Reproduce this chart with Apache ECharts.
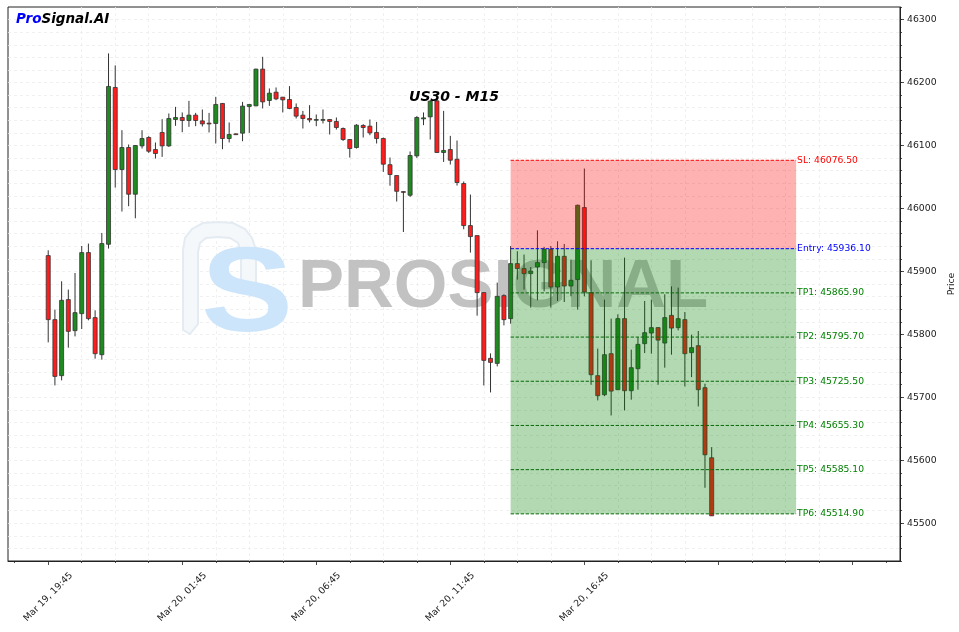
<!DOCTYPE html>
<html><head><meta charset="utf-8">
<script src="https://cdn.jsdelivr.net/npm/echarts@6/dist/echarts.min.js"></script>
<style>html,body{margin:0;padding:0;background:#fff}#c{width:959px;height:632px}</style>
</head><body><div id="c"></div>
<script>
// ---- data ----
const tickIndex = [0, 20, 40, 60, 80];
const tickLabels = ['Mar 19, 19:45', 'Mar 20, 01:45', 'Mar 20, 06:45', 'Mar 20, 11:45', 'Mar 20, 16:45'];
const majorTicks = [0, 20, 40, 60, 80, 100, 120];
const minorTicks = [-5, 5, 10, 15, 25, 30, 35, 45, 50, 55, 65, 70, 75, 85, 90, 95, 105, 110, 115, 125];
const priceTicks = [45500, 45600, 45700, 45800, 45900, 46000, 46100, 46200, 46300];

const opens = [
45925.1, 45823.4, 45734.4, 45855.2, 45805.9, 45832.9, 45929.9, 45826.6, 45767.7, 45943.1,
46192.2, 46061.8, 46096.8, 46022.6, 46099.4, 46112.7, 46093.6, 46120.7, 46099.4, 46141.3,
46144.5, 46139.7, 46148.2, 46139.1, 46135.5, 46135.0, 46166.8, 46111.1, 46118.5, 46119.6,
46162.0, 46163.0, 46221.3, 46171.5, 46184.7, 46176.8, 46173.1, 46160.4, 46148.2, 46142.9,
46141.3, 46141.3, 46141.3, 46138.2, 46127.0, 46109.5, 46096.8, 46131.8, 46130.7, 46120.7,
46111.1, 46069.5, 46052.3, 46026.8, 46021.0, 46083.5, 46142.3, 46145.5, 46170.9, 46088.9,
46093.6, 46078.2, 46039.6, 45972.8, 45956.9, 45866.3, 45761.9, 45753.9, 45861.5, 45825.0,
45912.4, 45904.5, 45896.5, 45907.0, 45914.0, 45935.1, 45875.2, 45924.0, 45876.8, 45887.0,
46001.4, 45866.3, 45734.4, 45704.1, 45769.3, 45712.1, 45825.0, 45710.5, 45745.5, 45785.2,
45802.1, 45810.7, 45786.2, 45830.2, 45810.7, 45823.4, 45770.9, 45782.0, 45715.3, 45604.0];
const closes = [
45823.4, 45733.2, 45854.1, 45804.8, 45834.5, 45929.9, 45825.0, 45769.3, 45944.2, 46193.8,
46061.8, 46096.8, 46022.6, 46100.0, 46111.1, 46090.9, 46087.3, 46099.4, 46142.9, 46144.5,
46139.7, 46148.2, 46139.7, 46134.3, 46135.0, 46165.2, 46111.1, 46117.5, 46117.5, 46162.5,
46165.2, 46221.3, 46169.3, 46183.1, 46174.1, 46172.5, 46158.8, 46146.6, 46142.9, 46140.7,
46141.3, 46141.3, 46138.2, 46128.6, 46109.5, 46095.2, 46132.3, 46128.6, 46120.0, 46111.1,
46070.3, 46053.9, 46027.3, 46026.0, 46084.1, 46144.5, 46143.9, 46170.4, 46088.9, 46092.1,
46076.6, 46041.2, 45972.8, 45955.3, 45866.3, 45758.7, 45755.5, 45860.4, 45823.4, 45912.4,
45904.5, 45896.5, 45900.6, 45914.0, 45935.1, 45875.2, 45924.0, 45876.8, 45885.9, 46005.1,
45867.3, 45735.9, 45702.6, 45767.7, 45709.9, 45825.0, 45710.5, 45747.1, 45784.1, 45802.7,
45810.7, 45790.9, 45826.6, 45810.0, 45825.0, 45769.3, 45778.9, 45712.1, 45608.7, 45511.8];
const highs = [
45933.5, 45839.3, 45884.3, 45871.1, 45897.5, 45940.4, 45944.2, 45838.2, 45961.1, 46246.3,
46227.2, 46124.3, 46101.6, 46100.5, 46124.3, 46114.8, 46104.8, 46141.8, 46150.9, 46161.4,
46152.5, 46170.9, 46151.8, 46157.2, 46151.8, 46177.3, 46167.3, 46136.6, 46119.0, 46169.3,
46165.5, 46222.0, 46240.9, 46190.6, 46192.2, 46177.0, 46194.3, 46166.8, 46155.0, 46164.1,
46149.3, 46157.2, 46141.5, 46144.5, 46128.6, 46110.0, 46133.9, 46133.9, 46141.3, 46137.5,
46112.7, 46080.9, 46052.5, 46027.0, 46090.5, 46146.6, 46152.5, 46172.0, 46175.2, 46155.0,
46115.3, 46107.9, 46042.8, 46022.1, 45957.0, 45866.5, 45769.8, 45882.2, 45863.6, 45940.4,
45932.0, 45926.7, 45907.0, 45965.3, 45938.8, 45940.4, 45947.9, 45943.6, 45918.8, 46006.0,
46063.4, 45917.7, 45777.3, 45855.2, 45825.0, 45831.8, 45921.9, 45775.7, 45795.7, 45853.0,
45855.2, 45811.5, 45863.6, 45876.3, 45874.2, 45835.5, 45799.5, 45805.3, 45721.6, 45620.8];
const lows = [
45787.3, 45718.9, 45726.9, 45778.9, 45796.8, 45808.4, 45822.3, 45761.4, 45759.8, 45936.3,
46033.2, 45995.1, 46003.5, 45984.4, 46095.2, 46088.2, 46079.3, 46081.9, 46097.8, 46131.2,
46121.1, 46129.6, 46130.7, 46130.2, 46120.7, 46103.2, 46094.1, 46104.8, 46117.0, 46106.8,
46120.0, 46162.5, 46158.8, 46163.0, 46172.0, 46152.5, 46157.7, 46142.9, 46127.0, 46136.6,
46130.7, 46135.0, 46117.5, 46125.4, 46107.3, 46080.9, 46095.2, 46112.7, 46116.4, 46103.2,
46058.0, 46036.1, 46011.0, 45962.6, 46018.3, 46080.3, 46132.3, 46109.5, 46088.5, 46073.9,
46069.8, 46036.4, 45966.9, 45929.9, 45829.7, 45718.9, 45707.8, 45749.1, 45814.3, 45817.0,
45887.0, 45871.1, 45842.5, 45854.1, 45868.4, 45842.5, 45853.0, 45851.4, 45860.4, 45839.3,
45860.4, 45720.0, 45695.1, 45701.9, 45671.2, 45711.5, 45679.2, 45696.2, 45712.1, 45770.3,
45769.3, 45720.0, 45747.1, 45767.7, 45806.4, 45717.3, 45732.1, 45685.5, 45556.3, 45511.5];

const levelNames = ['SL', 'Entry', 'TP1', 'TP2', 'TP3', 'TP4', 'TP5', 'TP6'];
const levelValues = [46076.50, 45936.10, 45865.90, 45795.70, 45725.50, 45655.30, 45585.10, 45514.90];
const zoneStart = 69;
const zoneEnd = 111.6;

// ---- build ----
const FONT = '"DejaVu Sans", sans-serif';
const GREEN = '#1f8a1f', RED = '#ff1c1c', EDGE = '#333333';
const candleData = opens.map((o, i) => [i, o, closes[i], lows[i], highs[i]]);
const zoneData = [
  [zoneStart, zoneEnd, levelValues[0], levelValues[1]],
  [zoneStart, zoneEnd, levelValues[1], levelValues[levelValues.length - 1]]
];
const zoneColors = ['rgba(255,0,0,0.3)', 'rgba(0,128,0,0.3)'];
const levelData = levelValues.map((v, i) => [zoneStart, zoneEnd, v, i]);
const levelLineColors = ['#ff0000', '#0000ff', '#0a6a0a', '#0a6a0a', '#0a6a0a', '#0a6a0a', '#0a6a0a', '#0a6a0a'];
const levelTextColors = ['#ff0000', '#0000ff', '#008000', '#008000', '#008000', '#008000', '#008000', '#008000'];

function renderCandle(params, api) {
  const x = api.value(0), o = api.value(1), c = api.value(2), l = api.value(3), h = api.value(4);
  const pO = api.coord([x, o]), pC = api.coord([x, c]), pL = api.coord([x, l]), pH = api.coord([x, h]);
  const w = api.size([1, 0])[0] * 0.6;
  const top = Math.min(pO[1], pC[1]), bot = Math.max(pO[1], pC[1]);
  const up = c >= o;
  return {
    type: 'group', children: [
      { type: 'line', shape: { x1: pH[0], y1: pH[1], x2: pL[0], y2: pL[1] }, style: { stroke: EDGE, lineWidth: 1 } },
      { type: 'rect', shape: { x: pO[0] - w / 2, y: top, width: w, height: Math.max(bot - top, 0.8) },
        style: { fill: up ? GREEN : RED, stroke: EDGE, lineWidth: 0.8 } }
    ]
  };
}
function renderZone(params, api) {
  const a = api.coord([api.value(0), api.value(2)]);
  const b = api.coord([api.value(1), api.value(3)]);
  return { type: 'rect', shape: { x: a[0], y: a[1], width: b[0] - a[0], height: b[1] - a[1] },
    style: { fill: zoneColors[params.dataIndex] } };
}
function renderLevel(params, api) {
  const i = api.value(3);
  const v = api.value(2);
  const a = api.coord([api.value(0), v]);
  const b = api.coord([api.value(1), v]);
  return {
    type: 'group', children: [
      { type: 'line', shape: { x1: a[0], y1: a[1], x2: b[0], y2: b[1] },
        style: { stroke: levelLineColors[i], lineWidth: 1, lineDash: [3.4, 1.6] } },
      { type: 'text', x: b[0] + 1, y: b[1],
        style: { text: levelNames[i] + ': ' + v.toFixed(2), fill: levelTextColors[i], fontSize: 9.2,
                 fontFamily: FONT, align: 'left', verticalAlign: 'middle' } }
    ]
  };
}

const axisColor = '#222';
const lbl = { fontSize: 9.3, color: '#222', fontFamily: FONT };
const option = {
  animation: false,
  backgroundColor: '#fff',
  grid: { left: 8, right: 59, top: 7, bottom: 71, show: true, borderColor: '#222', borderWidth: 1,
          backgroundColor: 'transparent', containLabel: false, outerBoundsMode: 'none' },
  xAxis: [
    { type: 'value', min: -6, max: 127.1, position: 'bottom',
      axisLine: { show: true, onZero: false, lineStyle: { color: axisColor, width: 1 } },
      axisTick: { show: true, customValues: minorTicks, length: 2, lineStyle: { color: axisColor, width: 0.8 } },
      axisLabel: Object.assign({ show: true, customValues: tickIndex,
        formatter: v => { const k = tickIndex.indexOf(v); return k >= 0 ? tickLabels[k] : ''; },
        rotate: 45, align: 'center', verticalAlign: 'middle', margin: 36 }, lbl),
      splitLine: { show: true, showMinLine: false, showMaxLine: false, lineStyle: { color: '#ececec', type: [3, 3], width: 0.8 } } },
    { type: 'value', min: -6, max: 127.1, position: 'bottom',
      axisLine: { show: false, onZero: false }, axisLabel: { show: false }, splitLine: { show: false },
      axisTick: { show: true, customValues: majorTicks, length: 4, lineStyle: { color: axisColor, width: 0.8 } } }
  ],
  yAxis: [
    { type: 'value', position: 'right', min: 45440, max: 46320, interval: 20,
      axisLine: { show: true, onZero: false, lineStyle: { color: axisColor, width: 1 } },
      axisTick: { show: true, length: 2, lineStyle: { color: axisColor, width: 0.8 } },
      axisLabel: Object.assign({ margin: 7, formatter: v => (v % 100 === 0 ? String(v) : '') }, lbl),
      splitLine: { show: true, showMinLine: false, showMaxLine: false, lineStyle: { color: '#ececec', type: [3, 3], width: 0.8 } },
      name: 'Price', nameLocation: 'middle', nameGap: 36, nameRotate: 90,
      nameTextStyle: { fontSize: 9.3, color: '#222', fontFamily: FONT } },
    { type: 'value', position: 'right', min: 45440, max: 46320,
      axisLine: { show: false, onZero: false }, axisLabel: { show: false }, splitLine: { show: false },
      axisTick: { show: true, customValues: priceTicks, length: 4, lineStyle: { color: axisColor, width: 0.8 } } }
  ],
  graphic: [
    { type: 'polygon', z: 1, silent: true,
      shape: { points: [[183,330],[183,250],[185,238],[192,229],[203,223],[218,222],[233,223],[245,229],[252,238],[256,250],[256,285],[241,285],[241,252],[238,243],[230,238],[218,237],[206,238],[200,243],[198,252],[198,324],[190,334]] },
      style: { fill: '#f5f8fb', stroke: '#e4ebf2', lineWidth: 2 } },
    { type: 'text', z: 1, silent: true, x: 247, y: 298, scaleX: 1.15,
      style: { text: 'S', fill: '#cce5fa', fontSize: 120, fontWeight: 'bold', fontFamily: '"Liberation Sans", Arial, sans-serif',
               align: 'center', verticalAlign: 'middle' } },
    { type: 'text', z: 1, silent: true, x: 298, y: 288,
      style: { text: 'PROSIGNAL', fill: '#c2c2c2', fontSize: 69, fontWeight: 'bold', fontFamily: '"Liberation Sans", Arial, sans-serif',
               align: 'left', verticalAlign: 'middle' } },
    { type: 'text', z: 10, silent: true, x: 454, y: 97,
      style: { text: 'US30 - M15', fill: '#000', fontSize: 14, fontWeight: 'bold', fontStyle: 'italic', fontFamily: FONT,
               align: 'center', verticalAlign: 'middle' } },
    { type: 'text', z: 10, silent: true, x: 16, y: 19,
      style: { text: '{a|Pro}{b|Signal.AI}', fontSize: 13.5, fontWeight: 'bold', fontStyle: 'italic', fontFamily: FONT,
               align: 'left', verticalAlign: 'middle',
               rich: { a: { fill: '#0000ff', fontSize: 13.5, fontWeight: 'bold', fontStyle: 'italic', fontFamily: FONT },
                       b: { fill: '#000000', fontSize: 13.5, fontWeight: 'bold', fontStyle: 'italic', fontFamily: FONT } } } }
  ],
  series: [
    { type: 'custom', name: 'candles', xAxisIndex: 0, yAxisIndex: 0, z: 2, silent: true,
      data: candleData, encode: { x: 0, y: [1, 2, 3, 4] }, renderItem: renderCandle },
    { type: 'custom', name: 'zones', xAxisIndex: 0, yAxisIndex: 0, z: 3, silent: true,
      data: zoneData, encode: { x: [0, 1], y: [2, 3] }, renderItem: renderZone },
    { type: 'custom', name: 'levels', xAxisIndex: 0, yAxisIndex: 0, z: 4, silent: true,
      data: levelData, encode: { x: [0, 1], y: 2 }, renderItem: renderLevel }
  ]
};
const chart = echarts.init(document.getElementById('c'));
chart.setOption(option);
</script>
</body></html>
